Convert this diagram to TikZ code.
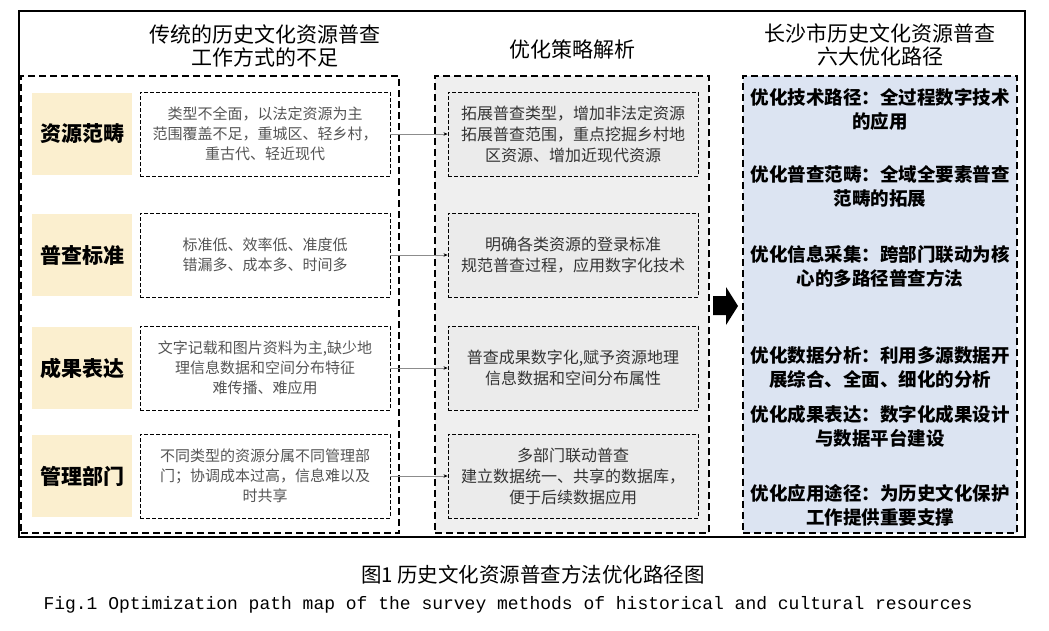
\documentclass[tikz,border=0pt]{standalone}
\usepackage{fontspec}
\usetikzlibrary{arrows.meta}
\newfontfamily\cjk{Noto Sans CJK SC}
\newfontfamily\monof{Liberation Mono}
\definecolor{labfill}{HTML}{FBEFCF}
\definecolor{midgroup}{HTML}{EFEFEF}
\definecolor{midbox}{HTML}{EBEBEB}
\definecolor{bluegroup}{HTML}{DCE4F2}
\definecolor{greytext}{HTML}{555555}
\definecolor{darktext}{HTML}{333333}
\tikzset{
  group/.style={draw=black, line width=2.2pt, dash pattern=on 7pt off 4pt, minimum width=#1, minimum height=457, inner sep=0pt},
  labbox/.style={fill=labfill, minimum width=100, minimum height=82, inner sep=0pt, font=\cjk\bfseries\fontsize{21}{24}\selectfont},
  textbox/.style={draw=black, line width=0.9pt, dash pattern=on 4pt off 2pt, minimum width=250, minimum height=84, inner sep=0pt, align=center, text width=246},
  lefttext/.style={textbox, fill=white, text=greytext, font=\cjk\fontsize{15}{20}\selectfont},
  midtext/.style={textbox, fill=midbox, text=darktext, font=\cjk\fontsize{16}{21}\selectfont},
  pathtext/.style={align=center, text width=272, inner sep=0pt, font=\cjk\bfseries\fontsize{18.5}{24}\selectfont},
  header/.style={align=center, inner sep=0pt, font=\cjk\fontsize{21}{23.5}\selectfont},
  conn/.style={draw=black!45, line width=0.6pt, -{Stealth[length=4pt,width=3.5pt,black]}}
}
\begin{document}
\begin{tikzpicture}[x=1pt,y=-1pt]
\useasboundingbox (0,0) rectangle (1049,630);
\fill[white] (0,0) rectangle (1049,630);
% outer frame
\node[draw=black, line width=1.2pt, minimum width=1006, minimum height=526, inner sep=0pt] (frame) at (522,274) {};
% groups
\node[group=378] (gleft) at (210,304.5) {};
\node[group=274, fill=midgroup] (gmid) at (572,304.5) {};
\node[group=274, fill=bluegroup] (gright) at (880,304.5) {};
% headers
\node[header] (h1) at (265,46) {传统的历史文化资源普查\\工作方式的不足};
\node[header] (h2) at (572,50) {优化策略解析};
\node[header] (h3) at (880,45) {长沙市历史文化资源普查\\六大优化路径};
% label boxes
\node[labbox] (a1) at (82,134) {资源范畴};
\node[labbox] (a2) at (82,255) {普查标准};
\node[labbox] (a3) at (82,368) {成果表达};
\node[labbox] (a4) at (82,476) {管理部门};
% left text boxes
\node[lefttext] (l1) at (265,134) {类型不全面，以法定资源为主\\范围覆盖不足，重城区、轻乡村，\\重古代、轻近现代};
\node[lefttext] (l2) at (265,255) {标准低、效率低、准度低\\错漏多、成本多、时间多};
\node[lefttext] (l3) at (265,368) {文字记载和图片资料为主,缺少地\\理信息数据和空间分布特征\\难传播、难应用};
\node[lefttext] (l4) at (265,476) {不同类型的资源分属不同管理部\\门；协调成本过高，信息难以及\\时共享};
% middle boxes
\node[midtext] (m1) at (573,134) {拓展普查类型，增加非法定资源\\拓展普查范围，重点挖掘乡村地\\区资源、增加近现代资源};
\node[midtext] (m2) at (573,255) {明确各类资源的登录标准\\规范普查过程，应用数字化技术};
\node[midtext] (m3) at (573,368) {普查成果数字化,赋予资源地理\\信息数据和空间分布属性};
\node[midtext] (m4) at (573,476) {多部门联动普查\\建立数据统一、共享的数据库，\\便于后续数据应用};
% connectors
\draw[conn] (l1.east) -- (m1.west);
\draw[conn] (l2.east) -- (m2.west);
\draw[conn] (l3.east) -- (m3.west);
\draw[conn] (l4.east) -- (m4.west);
% right texts
\node[pathtext] (p1) at (880,109) {优化技术路径：全过程数字技术\\的应用};
\node[pathtext] (p2) at (880,186) {优化普查范畴：全域全要素普查\\范畴的拓展};
\node[pathtext] (p3) at (880,266) {优化信息采集：跨部门联动为核\\心的多路径普查方法};
\node[pathtext] (p4) at (880,367) {优化数据分析：利用多源数据开\\展综合、全面、细化的分析};
\node[pathtext] (p5) at (880,426) {优化成果表达：数字化成果设计\\与数据平台建设};
\node[pathtext] (p6) at (880,505) {优化应用途径：为历史文化保护\\工作提供重要支撑};
% big arrow
\fill[black] (713,296) -- (726,296) -- (726,287) -- (738,306) -- (726,325) -- (726,315) -- (713,315) -- cycle;
% caption
\node[inner sep=0pt, font=\cjk\fontsize{20.5}{22}\selectfont] (cap1) at (533,575) {图1\ 历史文化资源普查方法优化路径图};
\node[inner sep=0pt, font=\monof\fontsize{18}{20}\selectfont] (cap2) at (508,605) {Fig.1 Optimization path map of the survey methods of historical and cultural resources};
\end{tikzpicture}
\end{document}
